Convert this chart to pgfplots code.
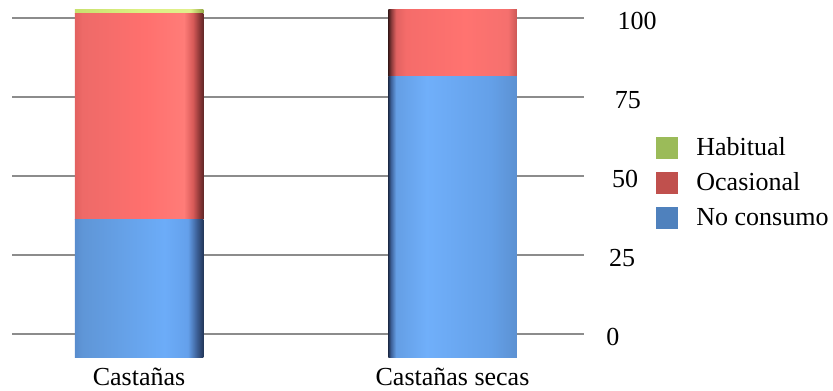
\documentclass[border=0pt]{standalone}
\usepackage{fontspec}
\setmainfont{Liberation Serif}
\usepackage{pgfplots}
\pgfplotsset{compat=1.18}

% flat legend colours
\definecolor{habitual}{HTML}{9BBB59}
\definecolor{ocasional}{HTML}{C0504D}
\definecolor{noconsumo}{HTML}{4F81BD}
\definecolor{gridgray}{RGB}{140,140,140}

% colours for the rounded-looking bar faces
\definecolor{rA0}{RGB}{226,98,96}
\definecolor{rA1}{RGB}{238,106,104}
\definecolor{rA2}{RGB}{255,112,110}
\definecolor{rA3}{RGB}{255,124,120}
\definecolor{rA4}{RGB}{215,90,88}
\definecolor{rA5}{RGB}{140,55,55}
\definecolor{rA6}{RGB}{100,40,40}
\definecolor{bA0}{RGB}{88,140,205}
\definecolor{bA1}{RGB}{95,150,215}
\definecolor{bA2}{RGB}{108,172,248}
\definecolor{bA3}{RGB}{100,160,235}
\definecolor{bA4}{RGB}{60,95,150}
\definecolor{bA5}{RGB}{35,55,90}
\definecolor{gA0}{RGB}{200,225,110}
\definecolor{gA1}{RGB}{220,240,130}
\definecolor{gA2}{RGB}{225,240,140}
\definecolor{gA3}{RGB}{150,170,70}
\definecolor{rB0}{RGB}{60,25,25}
\definecolor{rB1}{RGB}{130,55,55}
\definecolor{rB2}{RGB}{225,98,97}
\definecolor{rB3}{RGB}{245,108,106}
\definecolor{rB4}{RGB}{255,115,112}
\definecolor{rB5}{RGB}{245,112,110}
\definecolor{rB6}{RGB}{205,88,86}
\definecolor{bB0}{RGB}{30,45,75}
\definecolor{bB1}{RGB}{60,95,150}
\definecolor{bB2}{RGB}{100,158,228}
\definecolor{bB3}{RGB}{112,175,250}
\definecolor{bB4}{RGB}{100,160,232}
\definecolor{bB5}{RGB}{92,145,210}

% left bar: dark edge on the right
\pgfdeclarehorizontalshading{redA}{100bp}{color(0bp)=(rA0); color(25bp)=(rA0); color(28bp)=(rA1); color(52.5bp)=(rA2); color(67.5bp)=(rA3); color(71bp)=(rA4); color(73.5bp)=(rA5); color(75bp)=(rA6); color(100bp)=(rA6)}
\pgfdeclarehorizontalshading{blueA}{100bp}{color(0bp)=(bA0); color(25bp)=(bA0); color(28bp)=(bA1); color(60bp)=(bA2); color(69bp)=(bA3); color(72.5bp)=(bA4); color(75bp)=(bA5); color(100bp)=(bA5)}
\pgfdeclarehorizontalshading{greenA}{100bp}{color(0bp)=(gA0); color(25bp)=(gA0); color(50bp)=(gA1); color(70bp)=(gA2); color(75bp)=(gA3); color(100bp)=(gA3)}
% right bar: dark edge on the left
\pgfdeclarehorizontalshading{redB}{100bp}{color(0bp)=(rB0); color(25bp)=(rB0); color(26bp)=(rB1); color(28bp)=(rB2); color(32bp)=(rB3); color(55bp)=(rB4); color(71.5bp)=(rB5); color(75bp)=(rB6); color(100bp)=(rB6)}
\pgfdeclarehorizontalshading{blueB}{100bp}{color(0bp)=(bB0); color(25bp)=(bB0); color(26bp)=(bB1); color(28bp)=(bB2); color(40bp)=(bB3); color(65bp)=(bB4); color(75bp)=(bB5); color(100bp)=(bB5)}

\newcommand{\labelfont}{\fontsize{13}{15}\selectfont}

\pgfplotsset{
  barbase/.style={
    at={(-8.875pt,16.5pt)}, anchor=south west,
    scale only axis, width=313.5pt, height=173.5pt,
    xmin=-0.5, xmax=1.5, ymin=0, ymax=100,
    ybar stacked, bar width=64.25pt,
    axis line style={draw=none}, tick style={draw=none},
    major tick length=0pt, ytick=\empty,
    xticklabel style={font=\labelfont, inner sep=0pt, anchor=north, yshift=-5.5pt},
  }
}

\begin{document}
\begin{tikzpicture}
% background grid, value labels and legend
\begin{axis}[
  at={(6pt,28pt)}, anchor=south west,
  scale only axis, width=286pt, height=158pt,
  xmin=0, xmax=1, ymin=0, ymax=100,
  xtick=\empty, ytick={0,25,50,75,100},
  ymajorgrids, major grid style={color=gridgray, line width=1.2pt},
  axis line style={draw=none}, tick style={draw=none}, major tick length=0pt,
  ytick pos=right, yticklabel pos=right,
  /pgf/number format/assume math mode=true,
  yticklabel style={font=\labelfont, anchor=west, inner sep=0pt,
    xshift=11pt+1.4pt*\ticknum, yshift=-1.5pt},
  legend image code/.code={\fill[#1] (0pt,-5.5pt) rectangle (11pt,5.5pt);},
  legend style={draw=none, fill=none, at={(1.1259,0.6234)}, anchor=north west,
    font=\labelfont, inner sep=0pt, row sep=6.5pt,
    nodes={inner sep=0pt, anchor=west},
    /tikz/every odd column/.append style={column sep=9pt}},
]
\addlegendimage{fill=habitual, draw=none}
\addlegendentry{Habitual}
\addlegendimage{fill=ocasional, draw=none}
\addlegendentry{Ocasional}
\addlegendimage{fill=noconsumo, draw=none}
\addlegendentry{No consumo}
\end{axis}

% Castañas
\begin{axis}[barbase, xtick={0}, xticklabels={Castañas}]
\addplot[draw=none, shade, shading=blueA] coordinates {(0,39.5)};
\addplot[draw=none, shade, shading=redA] coordinates {(0,59.5)};
\addplot[draw=none, shade, shading=greenA] coordinates {(0,1.0)};
\end{axis}

% Castañas secas
\begin{axis}[barbase, xtick={1}, xticklabels={Castañas secas}]
\addplot[draw=none, shade, shading=blueB] coordinates {(1,80.7)};
\addplot[draw=none, shade, shading=redB] coordinates {(1,19.3)};
\addplot[draw=none, fill=habitual] coordinates {(1,0)};
\end{axis}

\pgfresetboundingbox
\useasboundingbox (0,0) rectangle (416.5pt,195pt);
\end{tikzpicture}
\end{document}
